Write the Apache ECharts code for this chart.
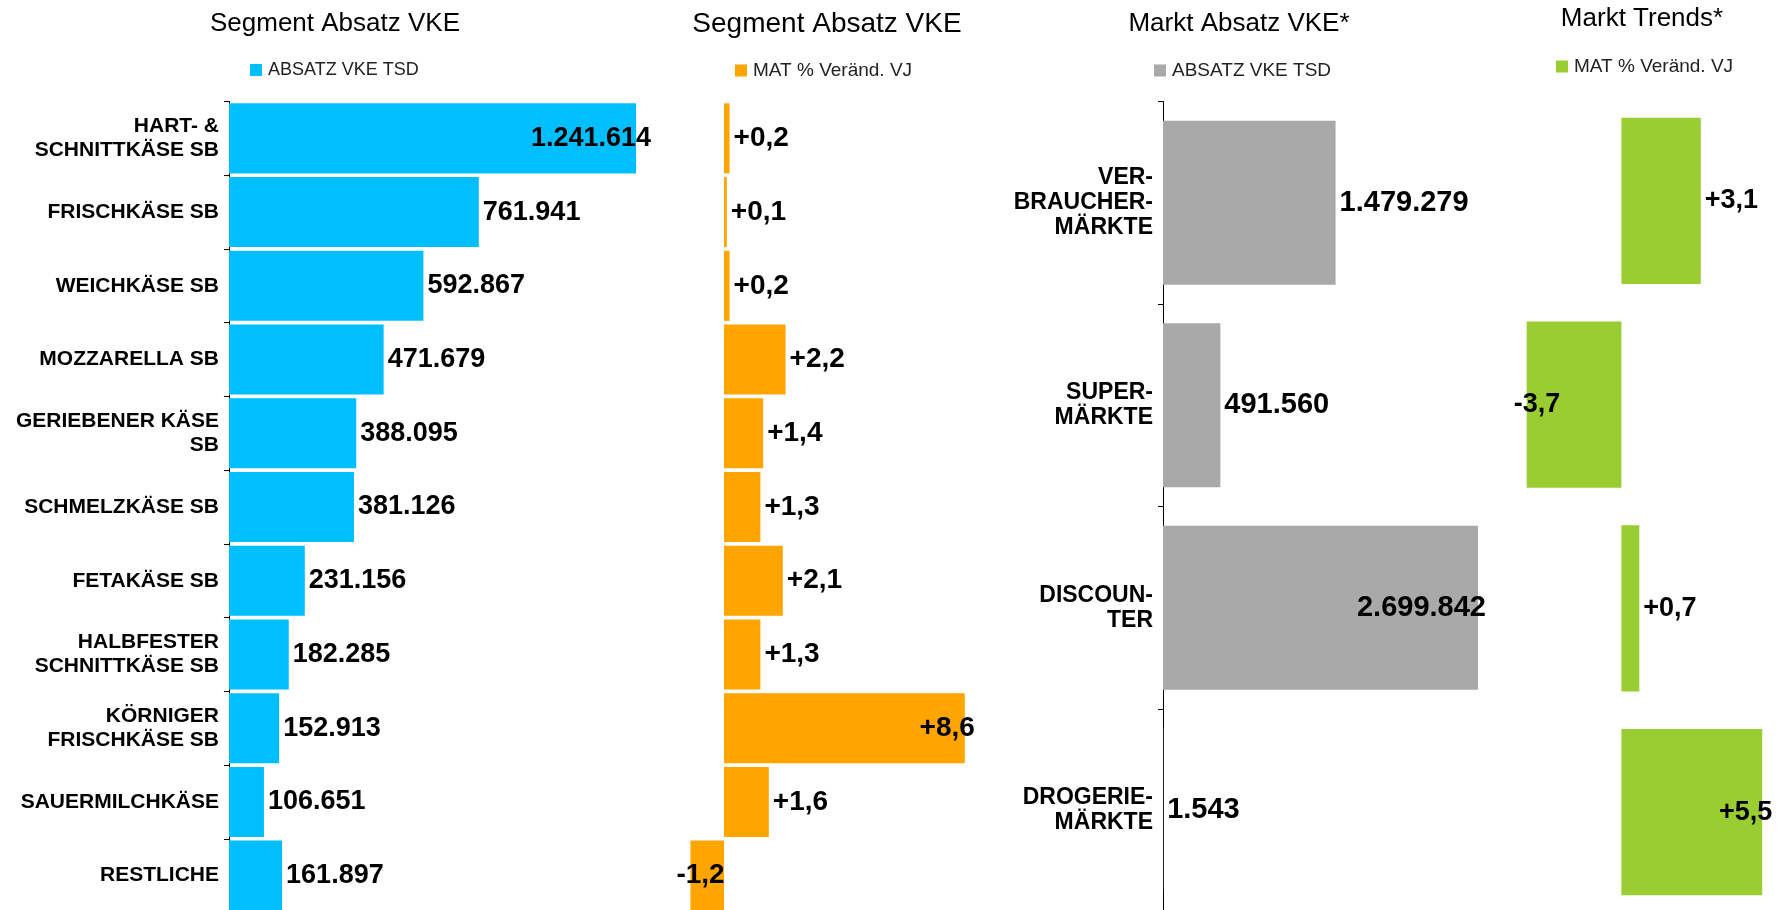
<!DOCTYPE html>
<html><head><meta charset="utf-8">
<script src="https://cdn.jsdelivr.net/npm/echarts@6/dist/echarts.min.js"></script>
<style>html,body{margin:0;padding:0;background:#fff}#c{width:1788px;height:910px}</style>
</head><body><div id="c"></div>
<script>
// ---- data ----
const segCategories = ['HART- &\nSCHNITTKÄSE SB','FRISCHKÄSE SB','WEICHKÄSE SB','MOZZARELLA SB','GERIEBENER KÄSE\nSB','SCHMELZKÄSE SB','FETAKÄSE SB','HALBFESTER\nSCHNITTKÄSE SB','KÖRNIGER\nFRISCHKÄSE SB','SAUERMILCHKÄSE','RESTLICHE'];
const segAbsatz = [1241614,761941,592867,471679,388095,381126,231156,182285,152913,106651,161897];
const segChange = [0.2,0.1,0.2,2.2,1.4,1.3,2.1,1.3,8.6,1.6,-1.2];
const marktCategories = ['VER-\nBRAUCHER-\nMÄRKTE','SUPER-\nMÄRKTE','DISCOUN-\nTER','DROGERIE-\nMÄRKTE'];
const marktAbsatz = [1479279,491560,2699842,1543];
const marktChange = [3.1,-3.7,0.7,5.5];
const panelTitles = ['Segment Absatz VKE','Segment Absatz VKE','Markt Absatz VKE*','Markt Trends*'];
const legendLabels = {s0:'ABSATZ VKE TSD', s1:'MAT % Veränd. VJ', s2:'ABSATZ VKE TSD', s3:'MAT % Veränd. VJ'};

// ---- style ----
const FONT = "'Liberation Sans', Arial, sans-serif";
const colors = ['#00BFFF','#FFA500','#A9A9A9','#9ACD32'];
// labels placed inside the bar end (index -> x offset)
const insideLabels = [{0:19},{8:14,10:-18},{2:12},{1:-17,3:14}];

const fmtThousands = v => String(v).replace(/\B(?=(\d{3})+(?!\d))/g,'.');
const fmtPct = v => (v>0?'+':'') + v.toFixed(1).replace('.',',');

function items(arr, idx){
  return arr.map((v,i)=>{
    const off = insideLabels[idx][i];
    if(off===undefined) return v;
    return {value:v, label:{position: v<0?'insideLeft':'insideRight', offset:[off,0]}};
  });
}

const grids = [
  {left:229, width:459, top:101.5, height:811},
  {left:668, width:336, top:101.5, height:811},
  {left:1163, width:350, top:101.5, height:810},
  {left:1519, width:256, top:99, height:815}
].map(g=>Object.assign({outerBoundsMode:'none', containLabel:false}, g));

const xRanges = [[0,1400000],[-2,10],[0,3000000],[-4,6]];
const xAxes = xRanges.map((r,i)=>({type:'value', gridIndex:i, min:r[0], max:r[1], show:false, splitLine:{show:false}}));

function catAxis(i, cats, showAxis, fontSize, lh){
  return {type:'category', gridIndex:i, data:cats, inverse:true,
    axisLine:{show:showAxis, onZero:false, lineStyle:{color:'#000', width:1}},
    axisTick:{show:showAxis, length:5, lineStyle:{color:'#000'}},
    axisLabel:{show:showAxis, margin:10, color:'#000', fontFamily:FONT, fontWeight:'bold', fontSize:fontSize, lineHeight:lh},
    splitLine:{show:false}};
}
const yAxes = [
  catAxis(0, segCategories, true, 21, 24),
  catAxis(1, segCategories, false, 21, 24),
  catAxis(2, marktCategories, true, 23, 25),
  catAxis(3, marktCategories, false, 23, 25)
];

const seriesData = [segAbsatz, segChange, marktAbsatz, marktChange];
const gaps = ['5%','5%','19%','18.5%'];
const labelSizes = [27,28,29,27];
const series = seriesData.map((d,i)=>({
  type:'bar', name:'s'+i, xAxisIndex:i, yAxisIndex:i,
  data: items(d,i), barCategoryGap:gaps[i],
  itemStyle:{color:colors[i]},
  label:{show:true, position:'right', distance:4, color:'#000', fontFamily:FONT, fontWeight:'bold', fontSize:labelSizes[i],
    formatter: p => (i%2===0 ? fmtThousands(p.value) : fmtPct(p.value))}
}));

const titleX = [335, 827, 1239, 1642];
const titleTop = [11, 10, 11, 6];
const titleSizes = [26, 28, 26, 26];
const titles = panelTitles.map((t,i)=>({text:t, left:titleX[i], top:titleTop[i], textAlign:'center', padding:0,
  textStyle:{fontFamily:FONT, fontWeight:'normal', fontSize:titleSizes[i], color:'#000'}}));

const legendPos = [[250,61],[735,61],[1154,61],[1556,57]];
const legendSizes = [18,19,19,19];
const legends = legendPos.map((p,i)=>({data:['s'+i], left:p[0], top:p[1], padding:0, itemWidth:12, itemHeight:12, itemGap:0,
  icon:'rect', selectedMode:false, formatter: n=>legendLabels[n],
  textStyle:{fontFamily:FONT, fontSize:legendSizes[i], color:'#222', lineHeight:18, padding:[0,0,0,1]}}));

const chart = echarts.init(document.getElementById('c'), null, {renderer:'canvas'});
chart.setOption({
  animation:false,
  backgroundColor:'#fff',
  title:titles,
  legend:legends,
  grid:grids,
  xAxis:xAxes,
  yAxis:yAxes,
  series:series
});
</script></body></html>
